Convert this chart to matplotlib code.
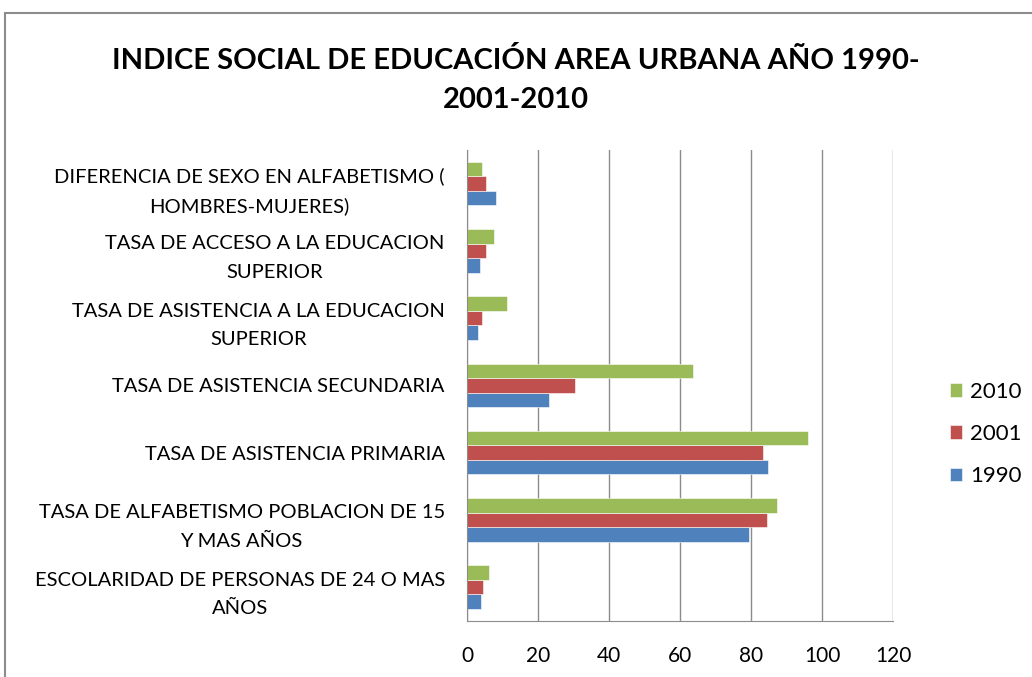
import matplotlib.pyplot as plt
import matplotlib.patches as mpatches
import numpy as np

plt.rcParams["font.family"] = ["Lato", "DejaVu Sans"]

categories = [
    "ESCOLARIDAD DE PERSONAS DE 24 O MAS\nAÑOS",
    "TASA DE ALFABETISMO POBLACION DE 15\nY MAS AÑOS",
    "TASA DE ASISTENCIA PRIMARIA",
    "TASA DE ASISTENCIA SECUNDARIA",
    "TASA DE ASISTENCIA A LA EDUCACION\nSUPERIOR",
    "TASA DE ACCESO A LA EDUCACION\nSUPERIOR",
    "DIFERENCIA DE SEXO EN ALFABETISMO (\nHOMBRES-MUJERES)",
]
years = ["1990", "2001", "2010"]
v1990 = [4.0, 79.3, 84.7, 23.1, 3.0, 3.7, 8.1]
v2001 = [4.6, 84.4, 83.5, 30.4, 4.1, 5.3, 5.3]
v2010 = [6.2, 87.3, 96.2, 63.7, 11.3, 7.5, 4.1]
colors = ["#4F81BD", "#C0504D", "#9BBB59"]
xticks = [0, 20, 40, 60, 80, 100, 120]

fig = plt.figure(figsize=(10.32, 6.77), dpi=100)
ax = fig.add_axes([0.4525, 0.0832, 0.4128, 0.6952])

# outer chart border (top and left edges visible)
fig.patches.append(mpatches.Rectangle((5 / 1032, -0.1), 1.2, 1 - 13 / 677 + 0.1,
                                      transform=fig.transFigure, fill=False,
                                      edgecolor="#8c8c8c", linewidth=1.5))

y = np.arange(len(categories))
h = 0.215
series = [v1990, v2001, v2010]
for i, (vals, col, lab) in enumerate(zip(series, colors, years)):
    ax.barh(y + (i - 1) * h, vals, height=h, color=col, label=lab,
            edgecolor="white", linewidth=0.4)

ax.set_xlim(0, 120)
ax.set_ylim(-0.5, len(categories) - 0.5)
ax.set_xticks(xticks)
ax.set_xticklabels([str(t) for t in xticks], fontsize=15)
ax.set_yticks(y)
ax.set_yticklabels(categories, fontsize=14.5, linespacing=1.8, multialignment="center")
ax.tick_params(axis="x", length=0, pad=18)
ax.tick_params(axis="y", length=0, pad=16)
ax.xaxis.grid(True, color="#8c8c8c", linewidth=1)
ax.set_axisbelow(True)
for s in ["top", "right"]:
    ax.spines[s].set_visible(False)
for s in ["left", "bottom"]:
    ax.spines[s].set_color("#8c8c8c")

fig.text(0.5, 0.911, "INDICE SOCIAL DE EDUCACIÓN AREA URBANA AÑO 1990-",
         ha="center", va="center", fontsize=21, fontweight="bold")
fig.text(0.5, 0.852, "2001-2010", ha="center", va="center",
         fontsize=21, fontweight="bold")

handles, labels = ax.get_legend_handles_labels()
fig.legend(handles[::-1], labels[::-1], loc="center left",
           bbox_to_anchor=(950 / 1032, 0.359), frameon=False, fontsize=16,
           borderaxespad=0, borderpad=0,
           handlelength=0.55, handleheight=0.55, handletextpad=0.35,
           labelspacing=1.0)

fig.savefig("out.png", dpi=100)
